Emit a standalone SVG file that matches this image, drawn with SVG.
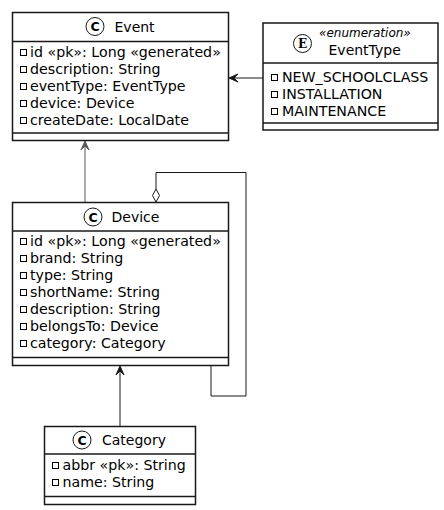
<svg xmlns="http://www.w3.org/2000/svg" width="444" height="510" viewBox="0 0 444 510">
<style>
.box{fill:#fff;stroke:#181818;stroke-width:1.5}
.div{stroke:#181818;stroke-width:1.5}
.h{font-family:"DejaVu Sans",Verdana,sans-serif;font-size:14px;fill:#000}
.t{font-family:"DejaVu Sans",Verdana,sans-serif;font-size:14.2px;fill:#000}
.st{font-family:"DejaVu Sans",Verdana,sans-serif;font-size:12px;font-style:italic;fill:#000}
.ic{fill:#fff;stroke:#181818;stroke-width:1}
.icl{font-family:"DejaVu Sans",sans-serif;font-size:12.5px;font-weight:bold;fill:#000;text-anchor:middle}
.ice{font-family:"DejaVu Serif",serif;font-size:12px;font-weight:bold;fill:#000;text-anchor:middle}
.sq{fill:none;stroke:#000;stroke-width:1}
.ln{fill:none;stroke:#181818;stroke-width:1}
.lg{fill:none;stroke:#595959;stroke-width:1}
</style>
<rect width="444" height="510" fill="#fff"/>
<g id="connectors">
<line class="lg" x1="85" y1="142" x2="85" y2="202"/>
<polygon points="85,141 81,150 85,146 89,150" fill="#595959" stroke="#595959" stroke-width="1"/>
<line class="ln" x1="263" y1="78" x2="230" y2="78"/>
<polygon points="229,78 238,74 234,78 238,82" fill="#181818" stroke="#181818" stroke-width="1"/>
<line class="ln" x1="120" y1="426" x2="120" y2="367"/>
<polygon points="120,366 116,375 120,371 124,375" fill="#181818" stroke="#181818" stroke-width="1"/>
<path class="ln" d="M156,189 V172.5 H246 V396 H211 V366"/>
<polygon points="156,189 159.5,195.5 156,202 152.5,195.5" fill="#fff" stroke="#181818" stroke-width="1"/>
</g>
<g id="Event">
<rect class="box" x="12.5" y="12.5" width="216" height="128"/>
<line class="div" x1="12.5" y1="41.5" x2="228.5" y2="41.5"/>
<line class="div" x1="12.5" y1="133" x2="228.5" y2="133"/>
<circle class="ic" cx="95" cy="26.5" r="9"/>
<text class="icl" x="95" y="31">C</text>
<text class="h" x="114.5" y="32">Event</text>
<rect class="sq" x="20.5" y="49.5" width="6" height="6"/>
<text class="t" x="30" y="57">id «pk»: Long «generated»</text>
<rect class="sq" x="20.5" y="66.5" width="6" height="6"/>
<text class="t" x="30" y="74">description: String</text>
<rect class="sq" x="20.5" y="83.5" width="6" height="6"/>
<text class="t" x="30" y="91">eventType: EventType</text>
<rect class="sq" x="20.5" y="100.5" width="6" height="6"/>
<text class="t" x="30" y="108">device: Device</text>
<rect class="sq" x="20.5" y="117.5" width="6" height="6"/>
<text class="t" x="30" y="125">createDate: LocalDate</text>
</g>
<g id="EventType">
<rect class="box" x="263" y="23" width="175" height="107"/>
<line class="div" x1="263" y1="63" x2="438" y2="63"/>
<line class="div" x1="263" y1="123" x2="438" y2="123"/>
<circle class="ic" cx="302.5" cy="43.5" r="9"/>
<text class="ice" x="302.5" y="48">E</text>
<text class="st" x="319" y="37">«enumeration»</text>
<text class="h" x="328.5" y="55">EventType</text>
<rect class="sq" x="271.5" y="74.5" width="6" height="6"/>
<text class="t" x="282" y="82">NEW_SCHOOLCLASS</text>
<rect class="sq" x="271.5" y="91.5" width="6" height="6"/>
<text class="t" x="282" y="99">INSTALLATION</text>
<rect class="sq" x="271.5" y="108.5" width="6" height="6"/>
<text class="t" x="282" y="116">MAINTENANCE</text>
</g>
<g id="Device">
<rect class="box" x="12.5" y="202.5" width="216" height="163"/>
<line class="div" x1="12.5" y1="231" x2="228.5" y2="231"/>
<line class="div" x1="12.5" y1="357.5" x2="228.5" y2="357.5"/>
<circle class="ic" cx="93" cy="217" r="9"/>
<text class="icl" x="93" y="221.5">C</text>
<text class="h" x="111.5" y="222">Device</text>
<rect class="sq" x="20.5" y="238.5" width="6" height="6"/>
<text class="t" x="30" y="246">id «pk»: Long «generated»</text>
<rect class="sq" x="20.5" y="255.5" width="6" height="6"/>
<text class="t" x="30" y="263">brand: String</text>
<rect class="sq" x="20.5" y="272.5" width="6" height="6"/>
<text class="t" x="30" y="280">type: String</text>
<rect class="sq" x="20.5" y="289.5" width="6" height="6"/>
<text class="t" x="30" y="297">shortName: String</text>
<rect class="sq" x="20.5" y="306.5" width="6" height="6"/>
<text class="t" x="30" y="314">description: String</text>
<rect class="sq" x="20.5" y="323.5" width="6" height="6"/>
<text class="t" x="30" y="331">belongsTo: Device</text>
<rect class="sq" x="20.5" y="340.5" width="6" height="6"/>
<text class="t" x="30" y="348">category: Category</text>
</g>
<g id="Category">
<rect class="box" x="44.5" y="426.5" width="151" height="78"/>
<line class="div" x1="44.5" y1="454" x2="195.5" y2="454"/>
<line class="div" x1="44.5" y1="496.5" x2="195.5" y2="496.5"/>
<circle class="ic" cx="82" cy="440" r="9"/>
<text class="icl" x="82" y="444.5">C</text>
<text class="h" x="102" y="445">Category</text>
<rect class="sq" x="52.5" y="462.5" width="6" height="6"/>
<text class="t" x="62.5" y="470">abbr «pk»: String</text>
<rect class="sq" x="52.5" y="479.5" width="6" height="6"/>
<text class="t" x="62.5" y="487">name: String</text>
</g>
</svg>
